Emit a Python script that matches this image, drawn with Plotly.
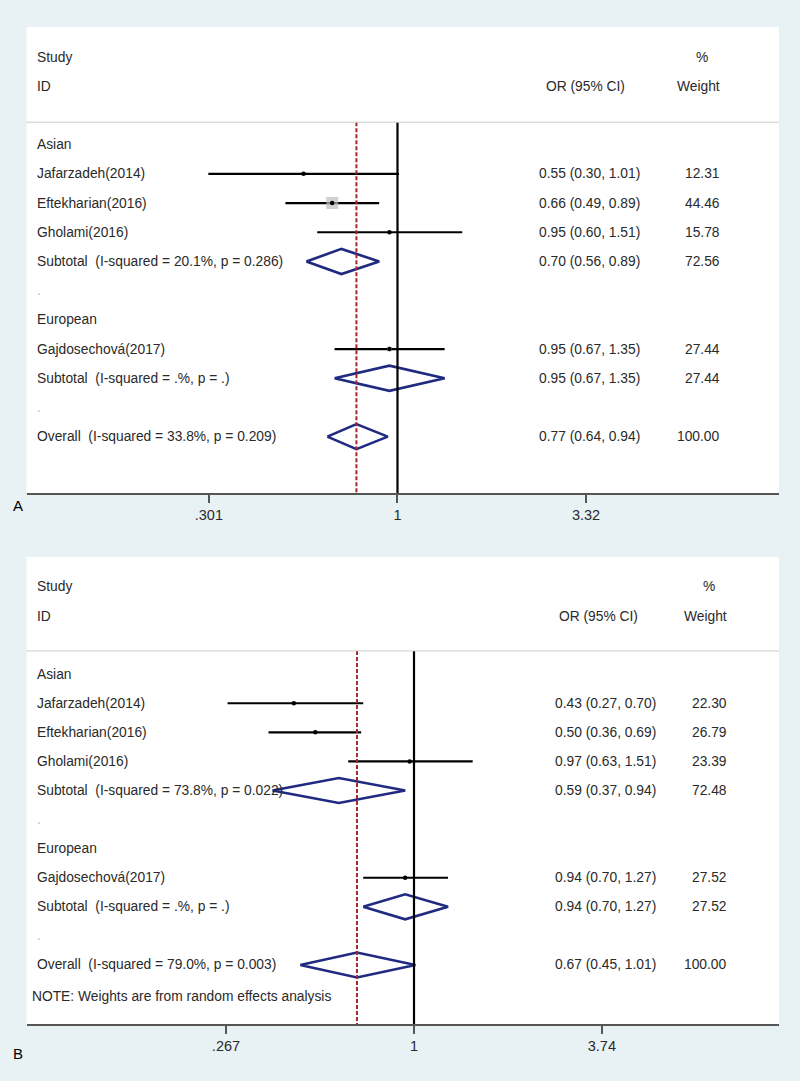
import plotly.graph_objects as go

# ---------------- data ----------------
studies = ["Jafarzadeh(2014)", "Eftekharian(2016)", "Gholami(2016)", "Gajdosechová(2017)"]
study_rows = [4, 5, 6, 10]

# Panel A
a_or = [0.55, 0.66, 0.95, 0.95]
a_lo = [0.30, 0.49, 0.60, 0.67]
a_hi = [1.01, 0.89, 1.51, 1.35]
a_wt = [12.31, 44.46, 15.78, 27.44]
a_sub_labels = ["Subtotal\u00a0 (I-squared = 20.1%, p = 0.286)", "Subtotal\u00a0 (I-squared = .%, p = .)",
                "Overall\u00a0 (I-squared = 33.8%, p = 0.209)"]
a_sub_or = [0.70, 0.95, 0.77]
a_sub_lo = [0.56, 0.67, 0.64]
a_sub_hi = [0.89, 1.35, 0.94]
a_sub_wt = [72.56, 27.44, 100.00]
a_ticks = [0.301, 1, 3.32]
a_ticktext = [".301", "1", "3.32"]

# Panel B
b_or = [0.43, 0.50, 0.97, 0.94]
b_lo = [0.27, 0.36, 0.63, 0.70]
b_hi = [0.70, 0.69, 1.51, 1.27]
b_wt = [22.30, 26.79, 23.39, 27.52]
b_sub_labels = ["Subtotal\u00a0 (I-squared = 73.8%, p = 0.022)", "Subtotal\u00a0 (I-squared = .%, p = .)",
                "Overall\u00a0 (I-squared = 79.0%, p = 0.003)"]
b_sub_or = [0.59, 0.94, 0.67]
b_sub_lo = [0.37, 0.70, 0.45]
b_sub_hi = [0.94, 1.27, 1.01]
b_sub_wt = [72.48, 27.52, 100.00]
b_ticks = [0.267, 1, 3.74]
b_ticktext = [".267", "1", "3.74"]

sub_rows = [7, 11, 13]
group_labels = ["Asian", "European"]
group_rows = [3, 9]
blank_rows = [8, 12]

# ---------------- style ----------------
W, H = 800, 1081
BG = "#e8f1f4"
TXT = "#2a2a2a"
FONT = "Liberation Sans, Arial, sans-serif"
FS = 13.8
NAVY = "#1f2a80"
RED = "#a8252a"

fig = go.Figure()

def px_x(p):
    return p / W

def add_panel(ax, ay, ors, los, his, wts, sub_labels, sub_or, sub_lo, sub_hi, sub_wt,
              or_x, wt_x, hdr_or_x, hdr_pct_x, box_scale, y_sep, y_bottom, note=None):
    xr = "x" if ax == 1 else "x%d" % ax
    yr = "y" if ay == 1 else "y%d" % ay
    # CI lines
    xs, ys = [], []
    for lo, hi, r in zip(los, his, study_rows):
        xs += [lo, hi, None]
        ys += [r, r, None]
    fig.add_trace(go.Scatter(x=xs, y=ys, mode="lines", line=dict(color="black", width=2.2),
                             xaxis=xr, yaxis=yr, hoverinfo="skip", showlegend=False))
    # weight boxes
    sizes = [box_scale * 12 * (w / 44.46) ** 2 for w in wts]
    fig.add_trace(go.Scatter(x=ors, y=study_rows, mode="markers",
                             marker=dict(symbol="square", size=sizes, color="#bcbcbc", line=dict(width=0)),
                             xaxis=xr, yaxis=yr, hoverinfo="skip", showlegend=False))
    # point estimates
    fig.add_trace(go.Scatter(x=ors, y=study_rows, mode="markers",
                             marker=dict(symbol="circle", size=4.5, color="black"),
                             xaxis=xr, yaxis=yr, hoverinfo="skip", showlegend=False))
    # diamonds
    h = 0.43
    for o, lo, hi, r in zip(sub_or, sub_lo, sub_hi, sub_rows):
        fig.add_trace(go.Scatter(x=[lo, o, hi, o, lo], y=[r, r - h, r, r + h, r], mode="lines",
                                 line=dict(color=NAVY, width=2.6), xaxis=xr, yaxis=yr,
                                 hoverinfo="skip", showlegend=False))
    # vertical lines
    fig.add_shape(type="line", xref=xr, yref=yr, x0=1, x1=1, y0=y_sep, y1=y_bottom,
                  line=dict(color="black", width=2.2))
    fig.add_shape(type="line", xref=xr, yref=yr, x0=sub_or[2], x1=sub_or[2], y0=y_sep, y1=y_bottom,
                  line=dict(color=RED, width=2, dash="4px,2px"))
    # separator
    fig.add_shape(type="line", xref=xr + " domain", yref=yr, x0=0, x1=1, y0=y_sep, y1=y_sep,
                  line=dict(color="#cccccc", width=1))

    def ann(text, x, r, anchor="left", color=TXT, size=FS):
        fig.add_annotation(text=text, x=x, y=r, xref="paper", yref=yr, xanchor=anchor,
                           yanchor="middle", showarrow=False, font=dict(family=FONT, size=size, color=color))

    # header
    ann("Study", px_x(35), 0)
    ann("ID", px_x(35), 1)
    ann("%", hdr_pct_x, 0, "center")
    ann("OR (95% CI)", hdr_or_x, 1, "center")
    ann("Weight", wt_x, 1, "right")
    for g, r in zip(group_labels, group_rows):
        ann(g, px_x(35), r)
    for r in blank_rows:
        ann(".", px_x(35), r, color="#bbbbbb")
    for s, r, o, lo, hi, w in zip(studies, study_rows, ors, los, his, wts):
        ann(s, px_x(35), r)
        ann("%.2f (%.2f, %.2f)" % (o, lo, hi), or_x, r)
        ann("%.2f" % w, wt_x, r, "right")
    for s, r, o, lo, hi, w in zip(sub_labels, sub_rows, sub_or, sub_lo, sub_hi, sub_wt):
        ann(s, px_x(35), r)
        ann("%.2f (%.2f, %.2f)" % (o, lo, hi), or_x, r)
        ann("%.2f" % w, wt_x, r, "right")
    if note:
        ann(note, px_x(30), 14.1)

add_panel(1, 1, a_or, a_lo, a_hi, a_wt, a_sub_labels, a_sub_or, a_sub_lo, a_sub_hi, a_sub_wt,
          or_x=px_x(537), wt_x=px_x(722), hdr_or_x=px_x(585), hdr_pct_x=px_x(702),
          box_scale=1.0, y_sep=2.23, y_bottom=14.93)
add_panel(2, 2, b_or, b_lo, b_hi, b_wt, b_sub_labels, b_sub_or, b_sub_lo, b_sub_hi, b_sub_wt,
          or_x=px_x(553), wt_x=px_x(729), hdr_or_x=px_x(598), hdr_pct_x=px_x(709),
          box_scale=0.2, y_sep=2.2, y_bottom=15.03, note="NOTE: Weights are from random effects analysis")

xdom = [26.5 / W, 779 / W]
axis_common = dict(type="log", showgrid=False, zeroline=False, showline=True, linecolor="#555555",
                   linewidth=2, ticks="outside", ticklen=8, tickwidth=1.5, tickcolor="#555555",
                   tickfont=dict(family=FONT, size=14.5, color=TXT), domain=xdom)
yaxis_common = dict(showgrid=False, zeroline=False, showticklabels=False, showline=False, ticks="")

fig.update_layout(
    width=W, height=H, margin=dict(l=0, r=0, t=0, b=0),
    paper_bgcolor=BG, plot_bgcolor="white", showlegend=False,
    xaxis=dict(**axis_common, anchor="y", range=[-1.0256, 1.0547], tickvals=a_ticks, ticktext=a_ticktext),
    yaxis=dict(**yaxis_common, domain=[1 - 493 / H, 1 - 27 / H], range=[14.93, -1.03]),
    xaxis2=dict(**axis_common, anchor="y2", range=[-1.1818, 1.1132], tickvals=b_ticks, ticktext=b_ticktext),
    yaxis2=dict(**yaxis_common, domain=[1 - 1024 / H, 1 - 557 / H], range=[15.03, -1.03]),
)

fig.add_annotation(text="A", x=18 / W, y=1 - 505 / H, xref="paper", yref="paper", showarrow=False,
                   xanchor="center", yanchor="middle", font=dict(family=FONT, size=15, color="black"))
fig.add_annotation(text="B", x=18 / W, y=1 - 1053 / H, xref="paper", yref="paper", showarrow=False,
                   xanchor="center", yanchor="middle", font=dict(family=FONT, size=15, color="black"))

fig.write_html("out.html", config={"displayModeBar": False},
               post_script="document.body.style.margin='0px';document.body.style.background='%s';" % BG)
